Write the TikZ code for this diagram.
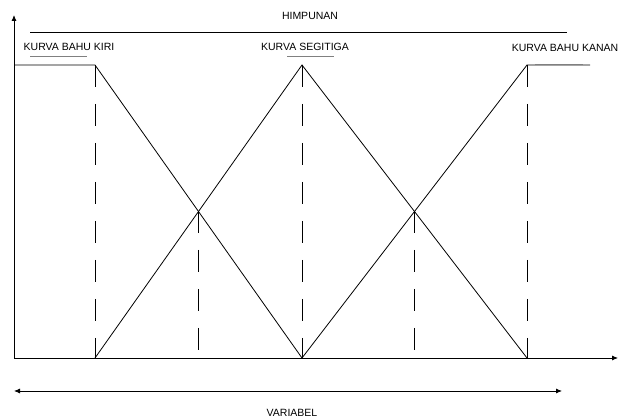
\documentclass[tikz,border=0pt]{standalone}
\usepackage{fontspec}
\setmainfont{Liberation Sans}
\usepackage{tikz}
\usetikzlibrary{arrows.meta, positioning, calc}

\begin{document}
\begin{tikzpicture}[x=1pt, y=-1pt,
    curve/.style={line width=0.8pt, black},
    guide/.style={line width=0.8pt, black, dash pattern=on 22pt off 17pt},
    underline/.style={line width=1pt, gray},
    lbl/.style={font=\fontsize{10.5}{12}\selectfont, inner sep=0pt}]
        \useasboundingbox (0,0) rectangle (622,419);

        % Key points
        \coordinate (o) at (14,358);
        \coordinate (ytop) at (14,15);
        \coordinate (xend) at (618,358);
        \coordinate (ls) at (14,65);
        \coordinate (lk) at (95,65);
        \coordinate (lb) at (95,358);
        \coordinate (pk) at (302,65);
        \coordinate (pb) at (302,358);
        \coordinate (rk) at (527,65);
        \coordinate (rb) at (527,358);
        \coordinate (re) at (590,65);
        \coordinate (xl) at (198,211);
        \coordinate (xlb) at (198,358);
        \coordinate (xr) at (414,211);
        \coordinate (xrb) at (414,358);

        % Axes
        \draw[line width=0.8pt, -{Latex[length=6pt, width=5pt]}] (o) -- (ytop);
        \draw[line width=0.8pt, -{Latex[length=6pt, width=5pt]}] (o) -- (xend);

        % Labels
        \node[lbl] (himp) at (310,16) {HIMPUNAN};
        \draw[line width=0.8pt] (30,32) coordinate (h1) -- (567,32) coordinate (h2);
        \node[lbl] (kiri) at (69,47) {KURVA BAHU KIRI};
        \node[lbl] (segi) at (305,47) {KURVA SEGITIGA};
        \node[lbl] (kanan) at (565,48) {KURVA BAHU KANAN};

        % Membership curves
        \draw[curve] (ls) -- (lk) -- (pb);
        \draw[curve] (lb) -- (pk) -- (rb);
        \draw[curve] (pb) -- (rk) -- (re);

        % Underlines
        \draw[underline] (30,57) -- (87,57);
        \draw[underline] (287,57) -- (334,57);
        \draw[underline] (535,65) -- (583,65);

        % Dashed guides
        \draw[guide] (lk) -- (lb);
        \draw[guide] (xl) -- (xlb);
        \draw[guide] (pk) -- (pb);
        \draw[guide] (xr) -- (xrb);
        \draw[guide] (rk) -- (rb);

        % Universe of discourse
        \coordinate (v1) at (14,391);
        \coordinate (v2) at (562,391);
        \draw[line width=0.8pt, {Latex[length=6pt, width=5pt]}-{Latex[length=6pt, width=5pt]}] (v1) -- (v2);
        \node[lbl] (var) at (292,413) {VARIABEL};

    \end{tikzpicture}
\end{document}
